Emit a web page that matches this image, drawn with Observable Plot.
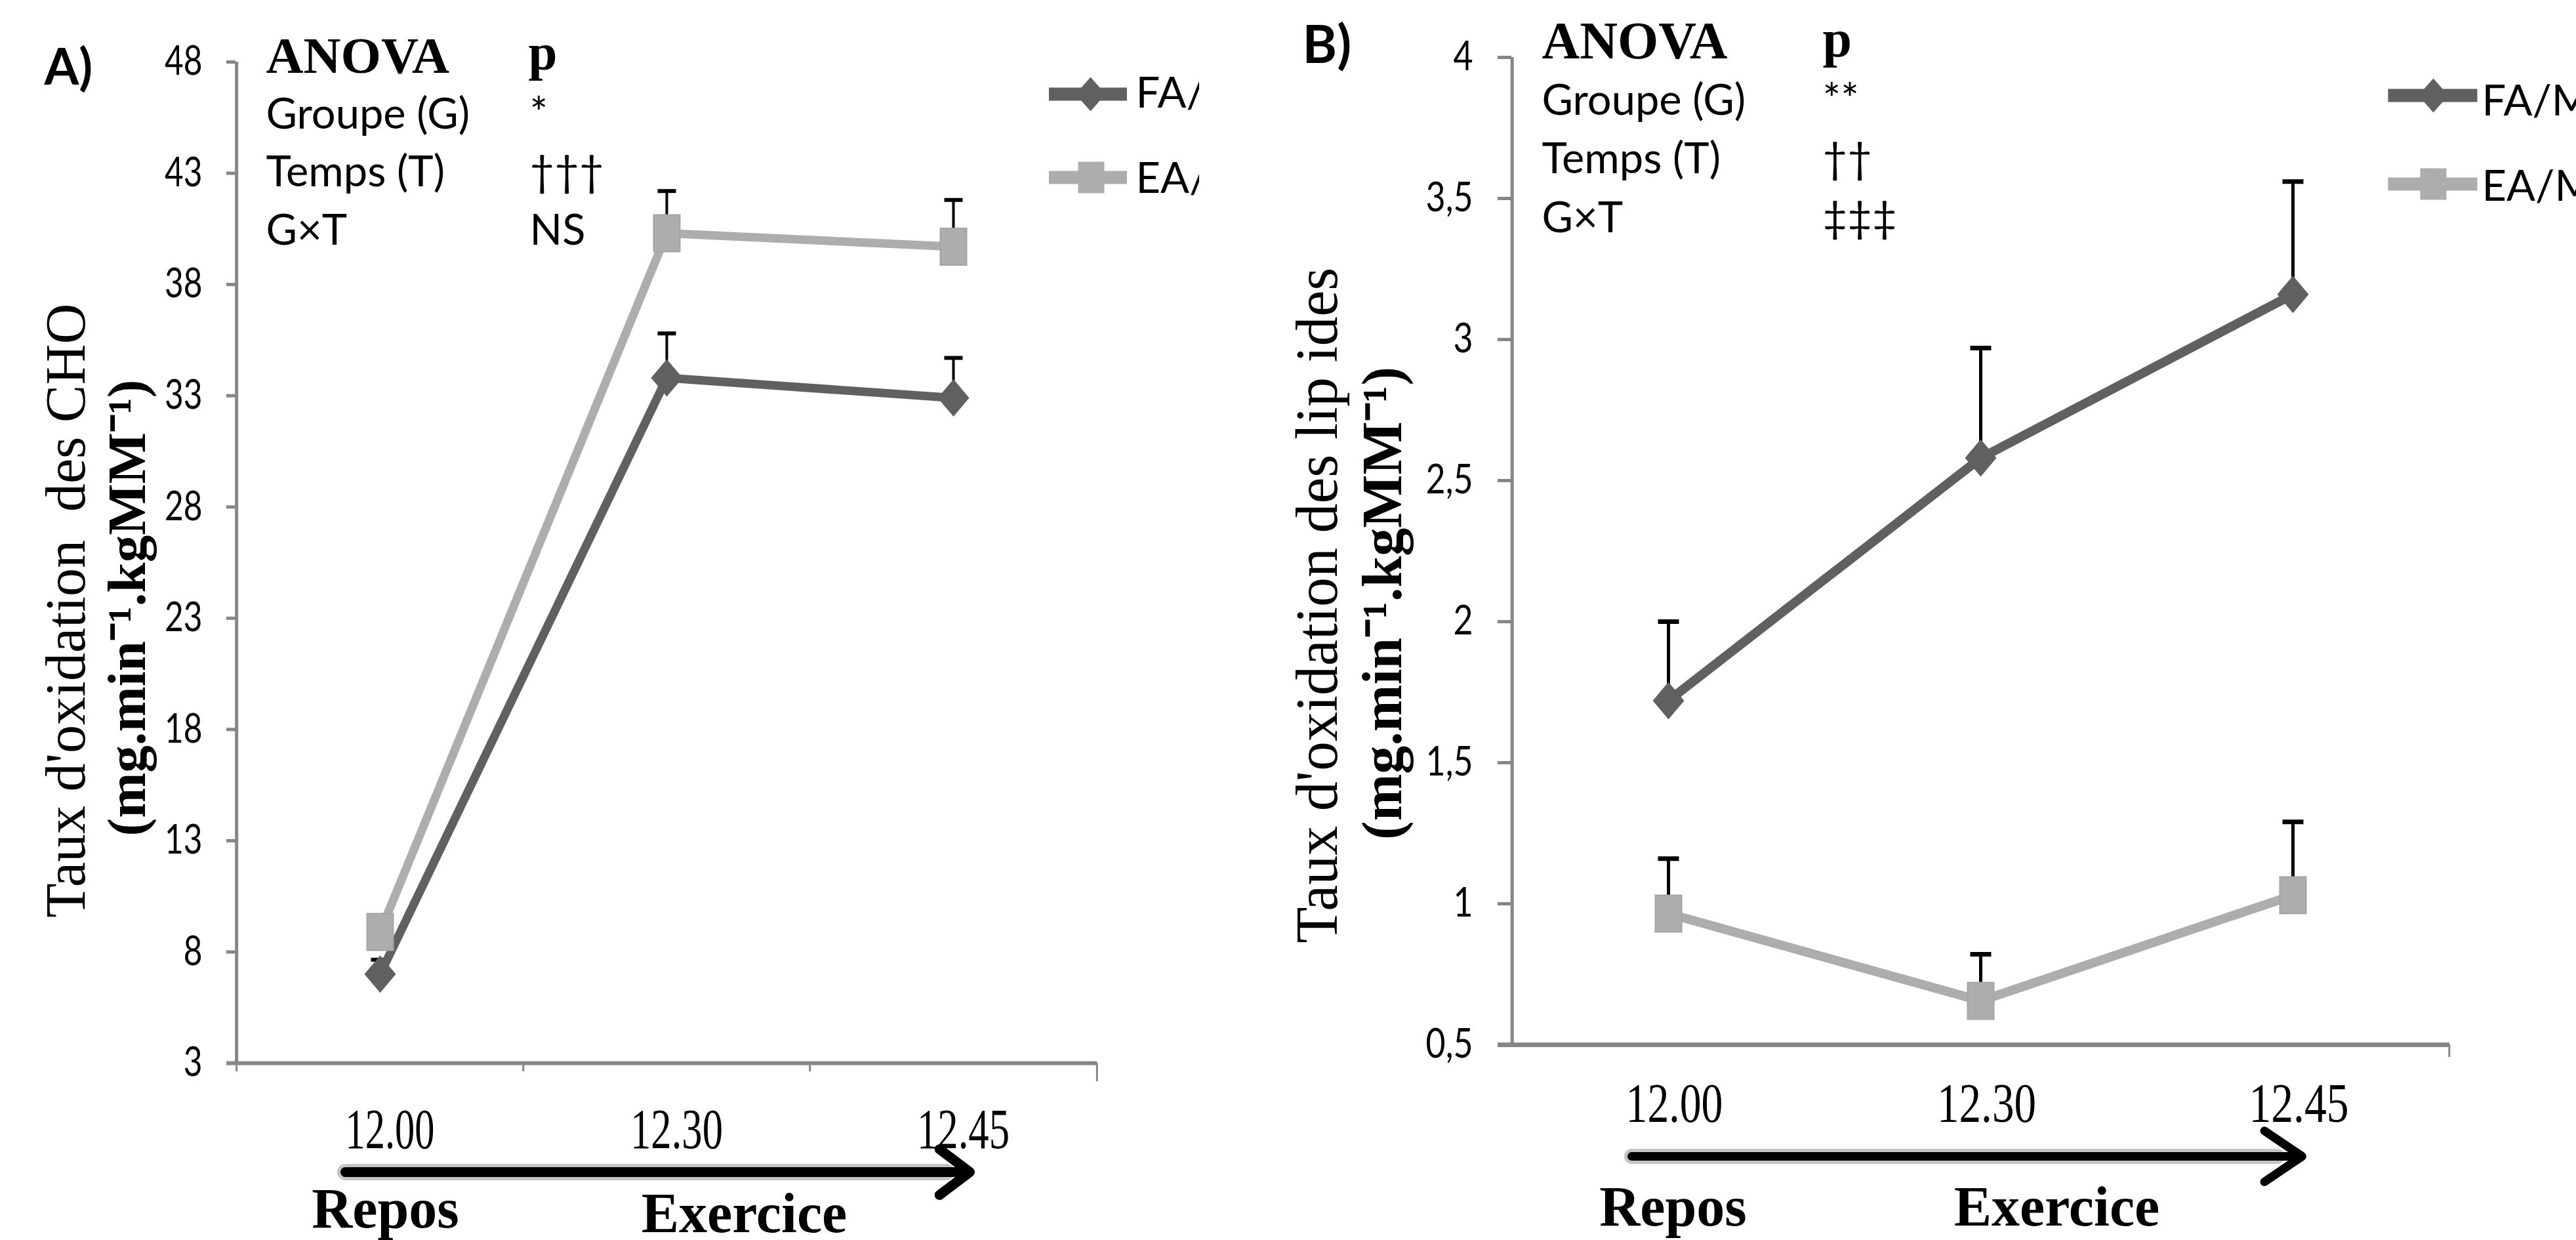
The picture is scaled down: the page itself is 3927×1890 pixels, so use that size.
<!DOCTYPE html>
<html><head><meta charset="utf-8">
<script src="https://cdn.jsdelivr.net/npm/d3@7"></script>
<script src="https://cdn.jsdelivr.net/npm/@observablehq/plot@0.6"></script>
<style>
html,body{margin:0;padding:0;background:#fff;}
#root{position:relative;width:3927px;height:1890px;overflow:hidden;background:#fff;}
.panel{position:absolute;top:0;height:1890px;overflow:hidden;}
</style></head><body>
<div id="root"><div id="pa" class="panel" style="left:0;width:1828px"></div><div id="pb" class="panel" style="left:1950px;width:1977px"></div></div>
<script>
// ---------- data ----------
const times = ["12.00", "12.30", "12.45"];
const groups = ["FA/MI", "EA/MI"];
// A) CHO oxidation (mg.min-1.kgMM-1)
const choFA = [7.0, 33.8, 32.9];
const choFAse = [0.65, 2.0, 1.8];
const choEA = [8.9, 40.3, 39.7];
const choEAse = [0.5, 1.9, 2.1];
const choTicks = [3, 8, 13, 18, 23, 28, 33, 38, 43, 48];
// B) lipid oxidation (mg.min-1.kgMM-1)
const lipFA = [1.72, 2.58, 3.16];
const lipFAse = [0.28, 0.39, 0.40];
const lipEA = [0.965, 0.656, 1.03];
const lipEAse = [0.195, 0.165, 0.26];
const lipTicks = [0.5, 1, 1.5, 2, 2.5, 3, 3.5, 4];
// ANOVA tables
const anovaTerms = ["Groupe (G)", "Temps (T)", "G×T"];
const anovaPA = ["*", "†††", "NS"];
const anovaPB = ["**", "††", "‡‡‡"];
const phases = ["Repos", "Exercice"];
const titlesA = ["Taux d'oxidation  des CHO", "(mg.min⁻¹.kgMM⁻¹)"];
const titlesB = ["Taux d'oxidation des lip ides", "(mg.min⁻¹.kgMM⁻¹)"];

// ---------- style ----------
const AX = "#868686", DARK = "#606060", LIGHT = "#adadad";
const SERIF = "'Liberation Serif', 'Times New Roman', serif";
const SANS = "Lato, 'Liberation Sans', sans-serif";

const sym = {
  diamond: (w, h) => ({draw(c) { c.moveTo(0, -h / 2); c.lineTo(w / 2, 0); c.lineTo(0, h / 2); c.lineTo(-w / 2, 0); c.closePath(); }}),
  rect: (w, h) => ({draw(c) { c.rect(-w / 2, -h / 2, w, h); }}),
  hbar: (len) => ({draw(c) { c.moveTo(-len / 2, 0); c.lineTo(len / 2, 0); }})
};

function rows(fa, faSe, ea, eaSe) {
  return [
    ...times.map((t, i) => ({time: t, group: groups[0], mean: fa[i], se: faSe[i]})),
    ...times.map((t, i) => ({time: t, group: groups[1], mean: ea[i], se: eaSe[i]}))
  ];
}

function makePanel(c) {
  const data = rows(c.fa, c.faSe, c.ea, c.eaSe);
  const step = (c.width - c.mL - c.mR) / times.length;
  const [yMin, yMax] = c.yDomain;
  const TA = {x: null, y: null, frameAnchor: "top-left"};
  const TR = {x: null, y: null, frameAnchor: "top-right"};
  const marks = [
    // axes
    Plot.ruleX([times[0]], {x: d => d, dx: -step / 2, y1: yMin, y2: yMax, stroke: AX, strokeWidth: 5}),
    Plot.axisY({ticks: c.yTicks, tickFormat: c.fmt, tickSize: c.tickSize, tickPadding: c.tickPad,
      stroke: AX, strokeWidth: 5, fill: "black", fontSize: c.yFont, fontFamily: SANS, label: null}),
    Plot.ruleY([yMin], {stroke: AX, strokeWidth: c.xAxisW, insetLeft: -c.tickSize}),
    ...(c.bandTicks ? [Plot.ruleX(times, {x: d => d, dx: -step / 2, y1: yMin, y2: yMin, insetBottom: -13, stroke: AX, strokeWidth: 3})] : []),
    Plot.ruleX([times[times.length - 1]], {x: d => d, dx: step / 2, y1: yMin, y2: yMin, insetBottom: -c.endTick, stroke: AX, strokeWidth: 3}),
    Plot.axisX({tickSize: 0, tickPadding: c.xPad, dx: c.xdx, fontSize: c.xFont, fontFamily: SERIF, fill: "black", label: null}),
    // error bars (upper)
    Plot.ruleX(data, {x: "time", y1: "mean", y2: d => d.mean + d.se, stroke: "black", strokeWidth: c.stemW}),
    Plot.dot(data, {x: "time", y: d => d.mean + d.se, symbol: sym.hbar(c.capW), r: 10, stroke: "black", strokeWidth: c.capT, fill: "none"}),
    // series
    Plot.line(data, {x: "time", y: "mean", z: "group", stroke: "group", strokeWidth: c.lineW, strokeLinejoin: "round"}),
    Plot.dot(data.filter(d => d.group === groups[0]), {x: "time", y: "mean", symbol: sym.diamond(48, 57), r: 10, fill: DARK}),
    Plot.dot(data.filter(d => d.group === groups[1]), {x: "time", y: "mean", symbol: sym.rect(40, 56), r: 10, fill: LIGHT, stroke: "#a4a4a4", strokeWidth: 2}),
    // legend
    ...groups.flatMap((g, i) => [
      Plot.dot([g], {...TR, dx: c.leg.lineDx, dy: c.leg.dy[i], symbol: sym.hbar(c.leg.len), r: 10, stroke: i ? LIGHT : DARK, strokeWidth: 20, fill: "none"}),
      Plot.dot([g], {...TR, dx: c.leg.markDx[i], dy: c.leg.dy[i], symbol: i ? sym.rect(40, 48) : sym.diamond(46, 52), r: 10, fill: i ? LIGHT : DARK}),
      Plot.text([g], {...TR, text: d => d, dx: c.leg.tDx, dy: c.leg.tDy[i], textAnchor: "start", lineAnchor: "bottom",
        fontSize: 65, fontFamily: SANS, fill: "black", ariaLabel: "legend text"})
    ]),
    // panel label + ANOVA table
    Plot.text([c.label], {...TA, text: d => d, dx: c.tab.labelDx, dy: c.tab.labelDy, textAnchor: "start", lineAnchor: "bottom",
      fontSize: c.tab.labelFont, fontWeight: "bold", fontFamily: SANS, fill: "black", ariaLabel: "panel label"}),
    Plot.text(["ANOVA"], {...TA, text: d => d, dx: c.tab.colDx[0], dy: c.tab.headDy, textAnchor: "start", lineAnchor: "bottom",
      fontSize: c.tab.headFont, fontWeight: "bold", fontFamily: SERIF, fill: "black", ariaLabel: "anova head"}),
    Plot.text(["p"], {...TA, text: d => d, dx: c.tab.colDx[1], dy: c.tab.pDy, textAnchor: "start", lineAnchor: "bottom",
      fontSize: c.tab.headFont, fontWeight: "bold", fontFamily: SERIF, fill: "black", ariaLabel: "anova p"}),
    Plot.text([anovaTerms.join("\n")], {...TA, text: d => d, dx: c.tab.colDx[0], dy: c.tab.rowsDy, textAnchor: "start", lineAnchor: "bottom",
      lineHeight: c.tab.lh, fontSize: 65, fontFamily: SANS, fill: "black", ariaLabel: "anova terms"}),
    Plot.text([c.pvals.join("\n")], {...TA, text: d => d, dx: c.tab.colDx[2], dy: c.tab.rowsDy, textAnchor: "start", lineAnchor: "bottom",
      lineHeight: c.tab.lh, fontSize: 65, fontFamily: SANS, fill: "black", ariaLabel: "anova pvals"}),
    // y titles
    Plot.text([c.titles[0]], {x: null, y: null, frameAnchor: "left", text: d => d, rotate: -90, dx: c.t1.dx, dy: c.t1.dy, lineAnchor: "bottom",
      textAnchor: "middle", fontSize: c.t1.size, fontFamily: SERIF, fill: "black", ariaLabel: "y title 1"}),
    Plot.text([c.titles[1]], {x: null, y: null, frameAnchor: "left", text: d => d, rotate: -90, dx: c.t2.dx, dy: c.t2.dy, lineAnchor: "bottom",
      textAnchor: "middle", fontSize: c.t2.size, fontWeight: "bold", fontFamily: SERIF, fill: "black", ariaLabel: "y title 2"}),
    // time arrow
    Plot.arrow([{from: times[0], to: times[2]}], {x1: "from", x2: "to", y1: yMin, y2: yMin, dy: c.arr.dy + c.arr.shadowDy, insetStart: c.arr.is, insetEnd: c.arr.shadowIE,
      stroke: "#c4c4c4", strokeWidth: c.arr.sw + 10, headLength: 0}),
    Plot.arrow([{from: times[0], to: times[2]}], {x1: "from", x2: "to", y1: yMin, y2: yMin, dy: c.arr.dy, insetStart: c.arr.is, insetEnd: c.arr.ie,
      stroke: "black", strokeWidth: c.arr.sw, headLength: c.arr.hl, headAngle: c.arr.ha}),
    Plot.text([phases[0]], {x: () => times[0], y: yMin, text: d => d, dx: c.ph.dx[0], dy: c.ph.dy[0], lineAnchor: "bottom", textAnchor: "middle",
      fontSize: 86, fontWeight: "bold", fontFamily: SERIF, fill: "black", ariaLabel: "phase repos"}),
    Plot.text([phases[1]], {x: () => times[1], y: yMin, text: d => d, dx: c.ph.dx[1], dy: c.ph.dy[1], lineAnchor: "bottom", textAnchor: "middle",
      fontSize: 86, fontWeight: "bold", fontFamily: SERIF, fill: "black", ariaLabel: "phase exercice"})
  ];
  return Plot.plot({
    width: c.width, height: 1890,
    marginLeft: c.mL, marginRight: c.mR, marginTop: c.mT, marginBottom: c.mB,
    style: {background: "white"},
    x: {type: "point", domain: times, padding: 0.5},
    y: {type: "linear", domain: c.yDomain},
    color: {domain: groups, range: [DARK, LIGHT]},
    marks
  });
}

function squeeze(svg, label, spec) {
  const nodes = [];
  svg.querySelectorAll(`g[aria-label="${label}"] text`).forEach(t => {
    const ts = t.querySelectorAll("tspan");
    if (ts.length) ts.forEach(s => nodes.push(s)); else nodes.push(t);
  });
  nodes.forEach((n, i) => {
    const w = Array.isArray(spec) ? spec[i] : n.getComputedTextLength() * spec;
    if (!(w > 0)) return;
    n.setAttribute("textLength", w);
    n.setAttribute("lengthAdjust", "spacingAndGlyphs");
  });
}

const cfgA = {
  width: 1828, mL: 359, mR: 156, mT: 94, mB: 270, yDomain: [3, 48], yTicks: choTicks, fmt: d => String(d),
  fa: choFA, faSe: choFAse, ea: choEA, eaSe: choEAse, pvals: anovaPA, label: "A)", titles: titlesA,
  tickSize: 14, tickPad: 37, yFont: 62, xAxisW: 6, bandTicks: true, endTick: 28, xPad: 68, xdx: 15, xFont: 87,
  capW: 28, capT: 6, stemW: 4, lineW: 13,
  leg: {lineDx: -14, dy: [49, 176], markDx: [-10, -9], len: 119, tDx: 59, tDy: [69, 199]},
  tab: {labelDx: -292, labelDy: 34, labelFont: 76, colDx: [46, 446, 448], headDy: 16, pDy: 11, headFont: 79, rowsDy: 278, lh: 1.36},
  t1: {dx: -231, dy: 73, size: 86}, t2: {dx: -139, dy: 69, size: 83},
  arr: {dy: 166, is: -53, ie: -25, sw: 15, hl: 5.8, ha: 74, shadowDy: 0, shadowIE: 11},
  ph: {dx: [8, 118], dy: [250, 257]}
};
const cfgB = {
  width: 1977, mL: 354, mR: 193, mT: 87, mB: 298, yDomain: [0.5, 4], yTicks: lipTicks, fmt: d => String(d).replace(".", ","),
  fa: lipFA, faSe: lipFAse, ea: lipEA, eaSe: lipEAse, pvals: anovaPB, label: "B)", titles: titlesB,
  tickSize: 21, tickPad: 38, yFont: 61, xAxisW: 7, bandTicks: false, endTick: 19, xPad: 58, xdx: 9, xFont: 84,
  capW: 32, capT: 7, stemW: 5, lineW: 14,
  leg: {lineDx: -26, dy: [58, 193], markDx: [-25, -25], len: 136, tDx: 49, tDy: [88, 218]},
  tab: {labelDx: -319, labelDy: 8, labelFont: 80, colDx: [46, 474, 474], headDy: 1, pDy: -2, headFont: 80, rowsDy: 266, lh: 1.37},
  t1: {dx: -267, dy: 82.5, size: 90}, t2: {dx: -169, dy: 79.5, size: 86},
  arr: {dy: 170, is: -56, ie: -14, sw: 13, hl: 8, ha: 68, shadowDy: 0, shadowIE: 24},
  ph: {dx: [7, 116], dy: [275, 275]}
};

const svgA = makePanel(cfgA);
document.getElementById("pa").appendChild(svgA);
const svgB = makePanel(cfgB);
document.getElementById("pb").appendChild(svgB);

const squeezeA = {
  "panel label": [54], "anova head": [195], "anova p": [27], "anova terms": [245, 215, 99], "anova pvals": [20, 76, 57],
  "y title 1": [1136], "y title 2": [812], "legend text": 0.9, "y-axis tick label": 0.8, "x-axis tick label": [136, 141, 141],
  "phase repos": [163], "phase exercice": [239]
};
const squeezeB = {
  "panel label": [53], "anova head": [207], "anova p": [29], "anova terms": [259, 228, 105], "anova pvals": [57, 52, 91],
  "y title 1": [1182], "y title 2": [830], "legend text": 0.9, "y-axis tick label": 0.85, "x-axis tick label": [148, 151, 152],
  "phase repos": [176], "phase exercice": [252]
};
for (const [k, v] of Object.entries(squeezeA)) squeeze(svgA, k, v);
for (const [k, v] of Object.entries(squeezeB)) squeeze(svgB, k, v);
</script>
</body></html>
